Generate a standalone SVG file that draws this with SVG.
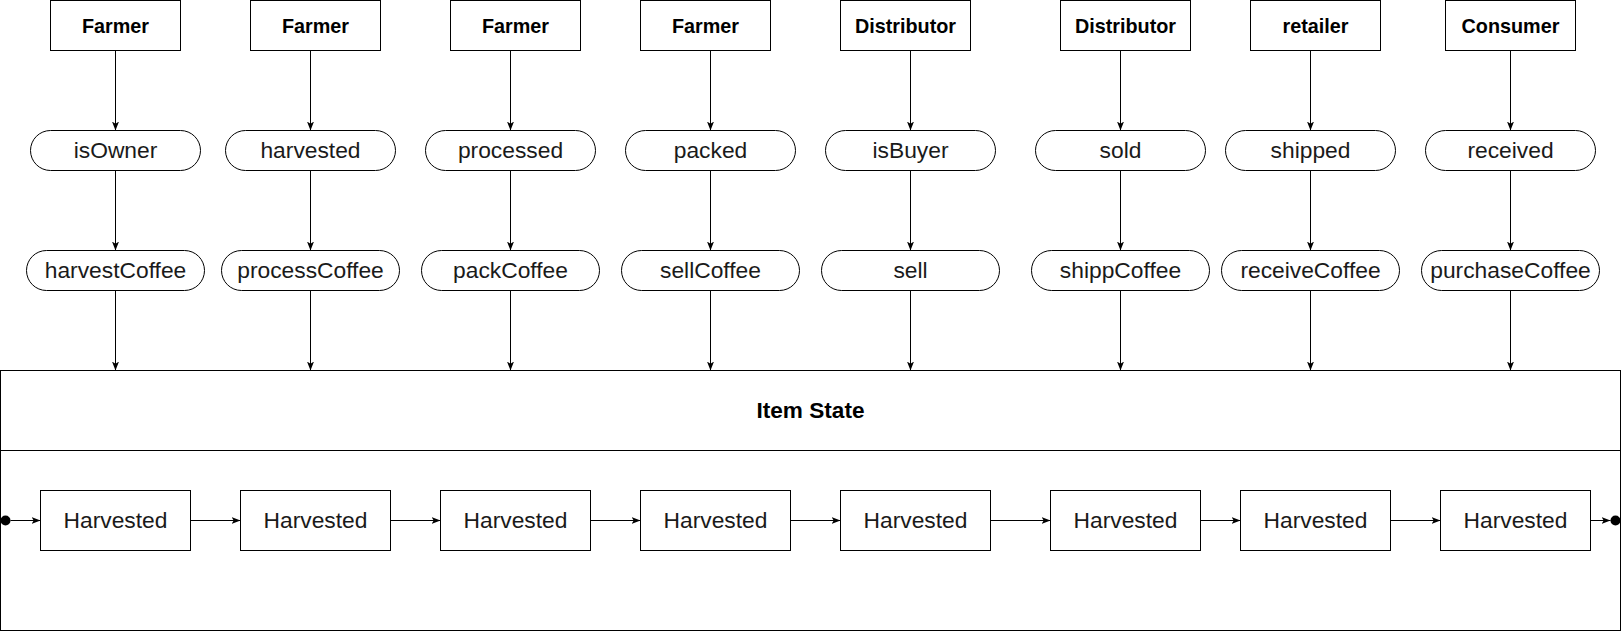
<svg xmlns="http://www.w3.org/2000/svg" width="1623" height="631" viewBox="0 0 1623 631">
<style>
.box{fill:#fff;stroke:#000;stroke-width:1}
.pill{fill:#fff;stroke:#000;stroke-width:1}
.role{font-family:"Liberation Sans",Arial,Helvetica,sans-serif;font-weight:bold;font-size:19.8px;fill:#000;text-anchor:middle}
.lbl{font-family:"Liberation Sans",Arial,Helvetica,sans-serif;font-size:22.8px;fill:#1a1a1a;text-anchor:middle}
.hdr{font-family:"Liberation Sans",Arial,Helvetica,sans-serif;font-weight:bold;font-size:22.6px;fill:#000;text-anchor:middle}
.edge{fill:none;stroke:#000;stroke-width:1;marker-end:url(#arr)}
</style>
<defs>
<marker id="arr" markerUnits="userSpaceOnUse" viewBox="0 0 9 7" refX="9" refY="3.5" markerWidth="9" markerHeight="7" orient="auto">
<path d="M0,0 L9,3.5 L0,7 L2.2,3.5 Z" fill="#000"/>
</marker>
</defs>
<rect width="1623" height="631" fill="#fff"/>
<g transform="translate(0.5,0.5)">
<g id="item-state">
<rect class="box" x="0" y="370" width="1620" height="260"/>
<line x1="0" y1="450" x2="1620" y2="450" stroke="#000" stroke-width="1"/>
<text class="hdr" x="810" y="417">Item State</text>
</g>
<g id="role1"><rect class="box" x="50" y="0" width="130" height="50"/><text class="role" x="115" y="32">Farmer</text></g>
<g id="role2"><rect class="box" x="250" y="0" width="130" height="50"/><text class="role" x="315" y="32">Farmer</text></g>
<g id="role3"><rect class="box" x="450" y="0" width="130" height="50"/><text class="role" x="515" y="32">Farmer</text></g>
<g id="role4"><rect class="box" x="640" y="0" width="130" height="50"/><text class="role" x="705" y="32">Farmer</text></g>
<g id="role5"><rect class="box" x="840" y="0" width="130" height="50"/><text class="role" x="905" y="32">Distributor</text></g>
<g id="role6"><rect class="box" x="1060" y="0" width="130" height="50"/><text class="role" x="1125" y="32">Distributor</text></g>
<g id="role7"><rect class="box" x="1250" y="0" width="130" height="50"/><text class="role" x="1315" y="32">retailer</text></g>
<g id="role8"><rect class="box" x="1445" y="0" width="130" height="50"/><text class="role" x="1510" y="32">Consumer</text></g>

<g id="check1"><rect class="pill" x="30" y="130" width="170" height="40" rx="20"/><text class="lbl" x="115" y="157.5">isOwner</text></g>
<g id="check2"><rect class="pill" x="225" y="130" width="170" height="40" rx="20"/><text class="lbl" x="310" y="157.5">harvested</text></g>
<g id="check3"><rect class="pill" x="425" y="130" width="170" height="40" rx="20"/><text class="lbl" x="510" y="157.5">processed</text></g>
<g id="check4"><rect class="pill" x="625" y="130" width="170" height="40" rx="20"/><text class="lbl" x="710" y="157.5">packed</text></g>
<g id="check5"><rect class="pill" x="825" y="130" width="170" height="40" rx="20"/><text class="lbl" x="910" y="157.5">isBuyer</text></g>
<g id="check6"><rect class="pill" x="1035" y="130" width="170" height="40" rx="20"/><text class="lbl" x="1120" y="157.5">sold</text></g>
<g id="check7"><rect class="pill" x="1225" y="130" width="170" height="40" rx="20"/><text class="lbl" x="1310" y="157.5">shipped</text></g>
<g id="check8"><rect class="pill" x="1425" y="130" width="170" height="40" rx="20"/><text class="lbl" x="1510" y="157.5">received</text></g>

<g id="fn1"><rect class="pill" x="26" y="250" width="178" height="40" rx="20"/><text class="lbl" x="115" y="277.5">harvestCoffee</text></g>
<g id="fn2"><rect class="pill" x="221" y="250" width="178" height="40" rx="20"/><text class="lbl" x="310" y="277.5">processCoffee</text></g>
<g id="fn3"><rect class="pill" x="421" y="250" width="178" height="40" rx="20"/><text class="lbl" x="510" y="277.5">packCoffee</text></g>
<g id="fn4"><rect class="pill" x="621" y="250" width="178" height="40" rx="20"/><text class="lbl" x="710" y="277.5">sellCoffee</text></g>
<g id="fn5"><rect class="pill" x="821" y="250" width="178" height="40" rx="20"/><text class="lbl" x="910" y="277.5">sell</text></g>
<g id="fn6"><rect class="pill" x="1031" y="250" width="178" height="40" rx="20"/><text class="lbl" x="1120" y="277.5">shippCoffee</text></g>
<g id="fn7"><rect class="pill" x="1221" y="250" width="178" height="40" rx="20"/><text class="lbl" x="1310" y="277.5">receiveCoffee</text></g>
<g id="fn8"><rect class="pill" x="1421" y="250" width="178" height="40" rx="20"/><text class="lbl" x="1510" y="277.5">purchaseCoffee</text></g>

<g id="start"><circle cx="5" cy="520" r="5" fill="#000"/></g>
<g id="end"><circle cx="1615" cy="520" r="5" fill="#000"/></g>
<g id="state1"><rect class="box" x="40" y="490" width="150" height="60"/><text class="lbl" x="115" y="527.5">Harvested</text></g>
<g id="state2"><rect class="box" x="240" y="490" width="150" height="60"/><text class="lbl" x="315" y="527.5">Harvested</text></g>
<g id="state3"><rect class="box" x="440" y="490" width="150" height="60"/><text class="lbl" x="515" y="527.5">Harvested</text></g>
<g id="state4"><rect class="box" x="640" y="490" width="150" height="60"/><text class="lbl" x="715" y="527.5">Harvested</text></g>
<g id="state5"><rect class="box" x="840" y="490" width="150" height="60"/><text class="lbl" x="915" y="527.5">Harvested</text></g>
<g id="state6"><rect class="box" x="1050" y="490" width="150" height="60"/><text class="lbl" x="1125" y="527.5">Harvested</text></g>
<g id="state7"><rect class="box" x="1240" y="490" width="150" height="60"/><text class="lbl" x="1315" y="527.5">Harvested</text></g>
<g id="state8"><rect class="box" x="1440" y="490" width="150" height="60"/><text class="lbl" x="1515" y="527.5">Harvested</text></g>

<g id="connectors">
<path class="edge" d="M115,50 V130"/><path class="edge" d="M115,170 V250"/><path class="edge" d="M115,290 V370"/>
<path class="edge" d="M310,50 V130"/><path class="edge" d="M310,170 V250"/><path class="edge" d="M310,290 V370"/>
<path class="edge" d="M510,50 V130"/><path class="edge" d="M510,170 V250"/><path class="edge" d="M510,290 V370"/>
<path class="edge" d="M710,50 V130"/><path class="edge" d="M710,170 V250"/><path class="edge" d="M710,290 V370"/>
<path class="edge" d="M910,50 V130"/><path class="edge" d="M910,170 V250"/><path class="edge" d="M910,290 V370"/>
<path class="edge" d="M1120,50 V130"/><path class="edge" d="M1120,170 V250"/><path class="edge" d="M1120,290 V370"/>
<path class="edge" d="M1310,50 V130"/><path class="edge" d="M1310,170 V250"/><path class="edge" d="M1310,290 V370"/>
<path class="edge" d="M1510,50 V130"/><path class="edge" d="M1510,170 V250"/><path class="edge" d="M1510,290 V370"/>
<path class="edge" d="M10,520 H40"/>
<path class="edge" d="M190,520 H240"/>
<path class="edge" d="M390,520 H440"/>
<path class="edge" d="M590,520 H640"/>
<path class="edge" d="M790,520 H840"/>
<path class="edge" d="M990,520 H1050"/>
<path class="edge" d="M1200,520 H1240"/>
<path class="edge" d="M1390,520 H1440"/>
<path class="edge" d="M1590,520 H1610"/>
</g>
</g>
</svg>
